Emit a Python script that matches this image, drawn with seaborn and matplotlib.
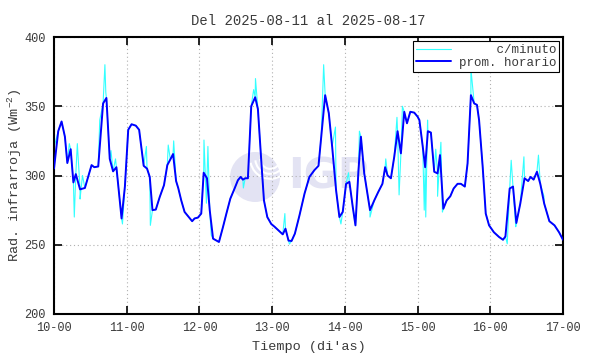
import numpy as np
import pandas as pd
import matplotlib
matplotlib.use("Agg")
import matplotlib.pyplot as plt
from matplotlib.patches import Ellipse, Arc
import seaborn as sns

# ---------------- data (hours since 2025-08-10 00:00) ----------------
hourly_t = [0.0, 1.4, 2.5, 3.6, 4.4, 5.5, 6.4, 7.2, 8.6, 10.2, 12.4, 13.3, 14.6, 16.2, 17.3,
            18.4, 19.5, 20.6, 22.3, 23.4, 24.5, 25.6, 27.0, 28.1, 29.6, 30.7, 31.6, 32.5,
            33.6, 34.9, 36.3, 37.4, 38.4, 39.3, 40.3, 41.0, 42.0, 43.1, 44.5, 45.6, 46.4,
            47.5, 48.6, 49.4, 50.5, 51.4, 52.5, 53.6, 54.45, 55.8, 56.9, 58.2, 59.6, 60.7,
            61.6, 62.35, 63.1, 64.0, 65.1, 66.4, 67.3, 68.4, 69.3, 70.4, 71.7, 72.8, 74.1,
            75.5, 76.4, 77.4, 78.4, 79.5, 81.0, 82.7, 84.3, 86.0, 87.3, 88.2, 89.5, 90.7,
            91.8, 93.1, 94.2, 95.3, 96.4, 97.5, 98.6, 99.5, 100.5, 101.3, 102.4, 104.3,
            105.7, 107.0, 108.4, 109.3, 110.1, 111.2, 112.3, 113.4, 114.5, 115.6, 116.5,
            117.6, 118.9, 120.0, 120.6, 121.7, 122.5, 123.4, 124.4, 125.5, 126.6, 127.4,
            128.5, 129.6, 130.8, 131.9, 133.2, 134.3, 135.6, 136.5, 137.6, 138.7, 139.6,
            140.3, 141.5, 142.5, 143.6, 145.2, 146.9, 148.2, 149.0, 150.4, 151.5, 152.6,
            153.9, 155.3, 156.5, 157.3, 158.3, 159.4, 160.5, 161.8, 163.5, 165.2, 166.7, 168.0]
hourly_v = [305, 332, 339, 328, 309, 319, 295, 301, 290, 291, 307.5, 306, 306.5, 352, 356,
            312, 303, 306, 269, 292, 333, 337, 336, 333, 307, 305, 299, 275,
            275.4, 284.5, 293, 307.5, 311.6, 315.5, 296, 291, 282, 273.7, 270, 267, 269,
            269.6, 272.5, 302, 298, 275, 254.4, 253, 252, 263, 272.5, 283.3, 290.6, 296.6,
            299, 297, 298, 298, 350, 356.5, 348, 311, 282, 270, 265, 263, 260.4,
            257.5, 261.6, 253, 252.7, 258, 271, 287, 299, 304, 307, 328, 358, 345,
            321, 289.4, 270, 273.7, 294, 295.4, 277.4, 264, 304, 328, 301.5, 275,
            282, 288, 294, 306, 300, 298, 313.5, 332, 316, 346, 337.7,
            346, 345.4, 342.5, 340, 321, 306, 332, 331, 302.7, 301.5, 314.7,
            276, 282, 285, 290.6, 294, 294, 292, 308.7, 358, 352, 351,
            340, 306, 272.5, 264, 259, 255.6, 253.6, 256, 290.6, 292, 265.7,
            279.7, 298, 296, 299, 297, 302.7, 294, 279.7, 267, 264, 259, 253.6]

# minute-data excursions away from the hourly mean
spike_t = [0.05, 0.2, 5.05, 6.7, 7.7, 8.6, 9.4, 15.1, 16.8, 17.1, 18.8, 20.3, 22.6, 30.5,
           31.8, 37.7, 39.5, 49.5, 50.3, 50.8, 51.9, 62.5, 65.9, 66.5, 76.2, 77.7, 89.0,
           92.9, 94.7, 97.2, 100.8, 104.3, 109.5, 113.2, 113.9, 115.0, 122.2, 122.7, 123.3,
           126.0, 126.6, 127.7, 128.2, 137.6, 149.6, 150.9, 152.4, 155.1, 159.9, 161.7]
spike_v = [280, 322, 323, 270, 323, 283, 300, 340, 380, 360, 318, 312, 265, 321,
           264, 322, 325, 325.6, 280, 321, 257, 291, 362, 370, 272.5, 250.5, 380,
           335, 265, 302, 332, 270, 312, 342, 286, 350, 275, 270, 340,
           319, 285, 324, 273.6, 377, 250.7, 311, 263, 313.5, 314.7, 285]

tick_pos = [0, 24, 48, 72, 96, 120, 144, 168]
tick_lab = ["10-00", "11-00", "12-00", "13-00", "14-00", "15-00", "16-00", "17-00"]
ytick_pos = [200, 250, 300, 350, 400]

df_h = pd.DataFrame({"t": hourly_t, "v": hourly_v})
df_m = pd.concat([df_h, pd.DataFrame({"t": spike_t, "v": spike_v})]).sort_values("t", kind="stable")

# ---------------- style ----------------
sns.set_style("ticks")
plt.rcParams["font.family"] = ["Liberation Mono", "DejaVu Sans Mono"]
plt.rcParams["mathtext.fontset"] = "custom"
plt.rcParams["mathtext.rm"] = "Liberation Mono"
plt.rcParams["mathtext.it"] = "Liberation Mono"
TXT = "#3a3a3a"

fig = plt.figure(figsize=(5.9, 3.54), dpi=100)
fig.patch.set_facecolor("white")
ax = fig.add_axes([54 / 590, 40 / 354, 509 / 590, 277 / 354])
ax.set_facecolor("white")

# watermark logo
wm = "#e3e3f3"
ax.add_patch(Ellipse((0.395, 0.4946), 50 / 509, 50 / 277, transform=ax.transAxes,
                     facecolor=wm, edgecolor="none", zorder=0))
for r, a1, a2 in [(0.8, 20, 110), (0.6, 10, 120), (0.4, 0, 130)]:
    ax.add_patch(Arc((0.425, 0.56), r * 50 / 509, r * 50 / 277, theta1=180 + a1, theta2=180 + a2,
                     transform=ax.transAxes, color="white", lw=1.5, zorder=0.5))
ax.text(0.46, 0.4946, "IGP", transform=ax.transAxes, fontsize=30, fontweight="bold",
        family="DejaVu Sans", color=wm, ha="left", va="center", zorder=0)

sns.lineplot(data=df_m, x="t", y="v", ax=ax, color="#33ffff", lw=0.8,
             label="     c/minuto", sort=False, estimator=None, zorder=2)
sns.lineplot(data=df_h, x="t", y="v", ax=ax, color="#0000ff", lw=1.4,
             label="prom. horario", sort=False, estimator=None, zorder=3)

ax.set_xlim(0, 168)
ax.set_ylim(200, 400)
ax.set_xticks(tick_pos)
ax.set_xticklabels(tick_lab)
ax.set_yticks(ytick_pos)
ax.set_yticklabels([str(v) for v in ytick_pos])
ax.grid(True, color="#b0b0b0", linestyle=(0, (1, 2.5)), lw=0.8)
ax.tick_params(direction="in", length=6, width=1.2, top=True, right=True,
               labelsize=8.6, colors="black", labelcolor=TXT, pad=6)
for s in ax.spines.values():
    s.set_visible(True)
    s.set_linewidth(1.5)
    s.set_color("black")

ax.set_title("Del 2025-08-11 al 2025-08-17", fontsize=10, color=TXT, pad=9)
ax.set_xlabel("Tiempo (di'as)", fontsize=9.7, color=TXT, labelpad=5)
ax.set_ylabel("Rad. infrarroja (Wm$^{-2}$)", fontsize=9.7, color=TXT)
ax.yaxis.set_label_coords(-0.058, 0.5)

leg = ax.legend(loc="upper right", frameon=True, fancybox=False, fontsize=9,
                handlelength=2.8, handletextpad=0.6, borderpad=0.25, labelspacing=0.05,
                borderaxespad=0.3)
leg.get_frame().set_edgecolor("black")
leg.get_frame().set_linewidth(0.8)
leg.get_frame().set_alpha(1)
for t in leg.get_texts():
    t.set_color(TXT)

fig.savefig("out.png", dpi=100)
